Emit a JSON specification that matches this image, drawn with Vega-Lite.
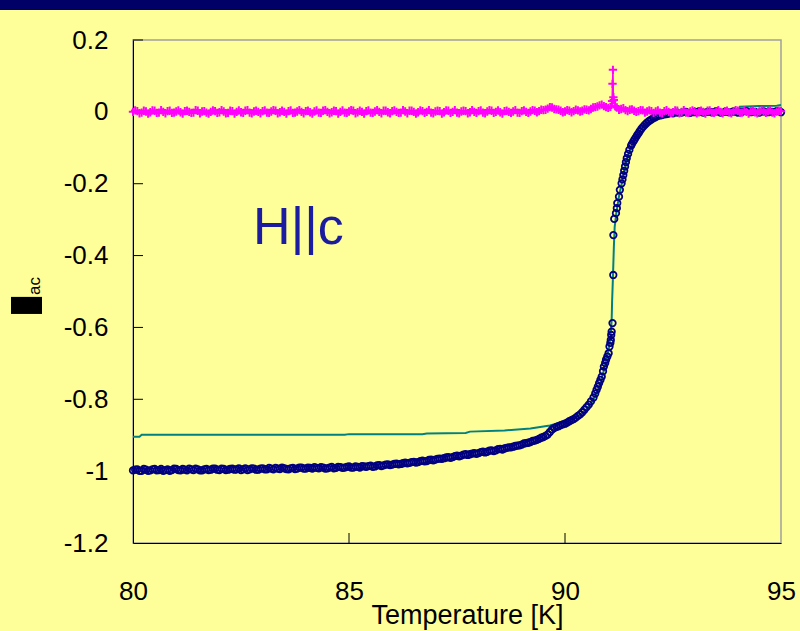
{
  "$schema": "https://vega.github.io/schema/vega-lite/v6.json",
  "width": 648,
  "height": 503,
  "autosize": {"type": "none"},
  "padding": {"left": 133, "top": 40, "right": 19, "bottom": 88},
  "background": "#FFFF99",
  "config": {
    "view": {"stroke": "#A0A0A0", "strokeWidth": 1.5},
    "font": "Liberation Sans"
  },
  "datasets": {
    "fit": [
      {"T": 80.0, "v": -0.904}, {"T": 80.15, "v": -0.904}, {"T": 80.2, "v": -0.899}, {"T": 84.9, "v": -0.899},
      {"T": 85.0, "v": -0.897}, {"T": 86.7, "v": -0.897}, {"T": 86.8, "v": -0.895}, {"T": 87.7, "v": -0.894},
      {"T": 87.8, "v": -0.890}, {"T": 88.6, "v": -0.887}, {"T": 89.2, "v": -0.881}, {"T": 89.65, "v": -0.873},
      {"T": 90.0, "v": -0.862}, {"T": 90.2, "v": -0.853}, {"T": 90.35, "v": -0.843}, {"T": 90.5, "v": -0.827},
      {"T": 90.6, "v": -0.812}, {"T": 90.7, "v": -0.790}, {"T": 90.8, "v": -0.762}, {"T": 90.9, "v": -0.720},
      {"T": 90.97, "v": -0.685}, {"T": 91.02, "v": -0.655}, {"T": 91.06, "v": -0.615}, {"T": 91.08, "v": -0.58},
      {"T": 91.09, "v": -0.53}, {"T": 91.11, "v": -0.46}, {"T": 91.13, "v": -0.38}, {"T": 91.15, "v": -0.32},
      {"T": 91.19, "v": -0.28}, {"T": 91.25, "v": -0.235}, {"T": 91.33, "v": -0.19}, {"T": 91.42, "v": -0.14},
      {"T": 91.52, "v": -0.10}, {"T": 91.65, "v": -0.068}, {"T": 91.8, "v": -0.042}, {"T": 91.95, "v": -0.027},
      {"T": 92.1, "v": -0.018}, {"T": 92.3, "v": -0.012}, {"T": 92.6, "v": -0.009}, {"T": 93.0, "v": -0.008},
      {"T": 93.5, "v": -0.008}, {"T": 94.0, "v": -0.008}, {"T": 94.05, "v": 0.014}, {"T": 94.5, "v": 0.016},
      {"T": 94.9, "v": 0.017}, {"T": 95.0, "v": 0.019}
    ],
    "real": [
      {"T": 80.0, "v": -0.998}, {"T": 80.1, "v": -0.995}, {"T": 80.2, "v": -0.999}, {"T": 80.3, "v": -0.996}, {"T": 80.4, "v": -0.998},
      {"T": 80.5, "v": -0.994}, {"T": 80.6, "v": -0.997}, {"T": 80.7, "v": -0.999}, {"T": 80.8, "v": -0.995}, {"T": 80.9, "v": -0.997},
      {"T": 81.0, "v": -0.994}, {"T": 81.1, "v": -0.998}, {"T": 81.2, "v": -0.996}, {"T": 81.3, "v": -0.993}, {"T": 81.4, "v": -0.997},
      {"T": 81.5, "v": -0.995}, {"T": 81.6, "v": -0.998}, {"T": 81.7, "v": -0.994}, {"T": 81.8, "v": -0.996}, {"T": 81.9, "v": -0.993},
      {"T": 82.0, "v": -0.997}, {"T": 82.1, "v": -0.994}, {"T": 82.2, "v": -0.996}, {"T": 82.3, "v": -0.993}, {"T": 82.4, "v": -0.995},
      {"T": 82.5, "v": -0.997}, {"T": 82.6, "v": -0.992}, {"T": 82.7, "v": -0.995}, {"T": 82.8, "v": -0.993}, {"T": 82.9, "v": -0.996},
      {"T": 83.0, "v": -0.992}, {"T": 83.1, "v": -0.995}, {"T": 83.2, "v": -0.993}, {"T": 83.3, "v": -0.991}, {"T": 83.4, "v": -0.994},
      {"T": 83.5, "v": -0.992}, {"T": 83.6, "v": -0.995}, {"T": 83.7, "v": -0.991}, {"T": 83.8, "v": -0.993}, {"T": 83.9, "v": -0.990},
      {"T": 84.0, "v": -0.993}, {"T": 84.1, "v": -0.991}, {"T": 84.2, "v": -0.989}, {"T": 84.3, "v": -0.992}, {"T": 84.4, "v": -0.990},
      {"T": 84.5, "v": -0.992}, {"T": 84.6, "v": -0.988}, {"T": 84.7, "v": -0.991}, {"T": 84.8, "v": -0.989}, {"T": 84.9, "v": -0.990},
      {"T": 85.0, "v": -0.987}, {"T": 85.1, "v": -0.990}, {"T": 85.2, "v": -0.988}, {"T": 85.3, "v": -0.986}, {"T": 85.4, "v": -0.988},
      {"T": 85.5, "v": -0.985}, {"T": 85.6, "v": -0.987}, {"T": 85.7, "v": -0.983}, {"T": 85.8, "v": -0.984}, {"T": 85.9, "v": -0.981},
      {"T": 86.0, "v": -0.982}, {"T": 86.1, "v": -0.979}, {"T": 86.2, "v": -0.980}, {"T": 86.3, "v": -0.976}, {"T": 86.4, "v": -0.977},
      {"T": 86.5, "v": -0.974}, {"T": 86.6, "v": -0.975}, {"T": 86.7, "v": -0.971}, {"T": 86.8, "v": -0.972}, {"T": 86.9, "v": -0.968},
      {"T": 87.0, "v": -0.968}, {"T": 87.1, "v": -0.965}, {"T": 87.2, "v": -0.964}, {"T": 87.3, "v": -0.961}, {"T": 87.4, "v": -0.961},
      {"T": 87.5, "v": -0.957}, {"T": 87.6, "v": -0.957}, {"T": 87.7, "v": -0.953}, {"T": 87.8, "v": -0.953}, {"T": 87.9, "v": -0.950},
      {"T": 88.0, "v": -0.950}, {"T": 88.1, "v": -0.946}, {"T": 88.2, "v": -0.946}, {"T": 88.3, "v": -0.942}, {"T": 88.4, "v": -0.942},
      {"T": 88.5, "v": -0.938}, {"T": 88.6, "v": -0.937}, {"T": 88.7, "v": -0.934}, {"T": 88.8, "v": -0.932}, {"T": 88.9, "v": -0.929},
      {"T": 89.0, "v": -0.926}, {"T": 89.1, "v": -0.922}, {"T": 89.2, "v": -0.919}, {"T": 89.3, "v": -0.915}, {"T": 89.4, "v": -0.910},
      {"T": 89.5, "v": -0.905}, {"T": 89.55, "v": -0.902}, {"T": 89.6, "v": -0.898}, {"T": 89.65, "v": -0.891}, {"T": 89.7, "v": -0.884},
      {"T": 89.75, "v": -0.880}, {"T": 89.8, "v": -0.877}, {"T": 89.85, "v": -0.875}, {"T": 89.9, "v": -0.872}, {"T": 89.95, "v": -0.870},
      {"T": 90.0, "v": -0.868}, {"T": 90.05, "v": -0.865},
      {"T": 90.1, "v": -0.861}, {"T": 90.15, "v": -0.858}, {"T": 90.2, "v": -0.855}, {"T": 90.25, "v": -0.851}, {"T": 90.3, "v": -0.846},
      {"T": 90.35, "v": -0.842}, {"T": 90.4, "v": -0.836}, {"T": 90.45, "v": -0.829}, {"T": 90.5, "v": -0.822}, {"T": 90.55, "v": -0.815},
      {"T": 90.6, "v": -0.806}, {"T": 90.66, "v": -0.795}, {"T": 90.7, "v": -0.784}, {"T": 90.73, "v": -0.774}, {"T": 90.76, "v": -0.765},
      {"T": 90.79, "v": -0.755}, {"T": 90.82, "v": -0.746}, {"T": 90.85, "v": -0.737}, {"T": 90.88, "v": -0.722}, {"T": 90.9, "v": -0.709},
      {"T": 90.93, "v": -0.699}, {"T": 90.95, "v": -0.690}, {"T": 90.98, "v": -0.681}, {"T": 91.01, "v": -0.672}, {"T": 91.03, "v": -0.653},
      {"T": 91.05, "v": -0.643}, {"T": 91.06, "v": -0.635}, {"T": 91.07, "v": -0.621}, {"T": 91.08, "v": -0.612}, {"T": 91.10, "v": -0.588},
      {"T": 91.118, "v": -0.454}, {"T": 91.12, "v": -0.343}, {"T": 91.14, "v": -0.298}, {"T": 91.18, "v": -0.282}, {"T": 91.20, "v": -0.268},
      {"T": 91.21, "v": -0.254}, {"T": 91.25, "v": -0.236}, {"T": 91.27, "v": -0.217}, {"T": 91.31, "v": -0.199}, {"T": 91.33, "v": -0.188},
      {"T": 91.35, "v": -0.176}, {"T": 91.37, "v": -0.164}, {"T": 91.39, "v": -0.152}, {"T": 91.41, "v": -0.140}, {"T": 91.43, "v": -0.129},
      {"T": 91.46, "v": -0.117}, {"T": 91.49, "v": -0.106}, {"T": 91.53, "v": -0.094}, {"T": 91.55, "v": -0.089}, {"T": 91.58, "v": -0.083},
      {"T": 91.61, "v": -0.077}, {"T": 91.64, "v": -0.071}, {"T": 91.67, "v": -0.065}, {"T": 91.70, "v": -0.060}, {"T": 91.73, "v": -0.054},
      {"T": 91.77, "v": -0.047}, {"T": 91.81, "v": -0.041}, {"T": 91.85, "v": -0.036}, {"T": 91.89, "v": -0.031}, {"T": 91.94, "v": -0.026},
      {"T": 91.99, "v": -0.022}, {"T": 92.04, "v": -0.018}, {"T": 92.09, "v": -0.015}, {"T": 92.14, "v": -0.012}, {"T": 92.19, "v": -0.010},
      {"T": 92.24, "v": -0.009}, {"T": 92.3, "v": -0.007}, {"T": 92.35, "v": -0.006}, {"T": 92.4, "v": -0.005}, {"T": 92.5, "v": -0.004},
      {"T": 92.6, "v": -0.002}, {"T": 92.7, "v": -0.002}, {"T": 92.8, "v": 0.000}, {"T": 92.9, "v": -0.003}, {"T": 93.0, "v": -0.001},
      {"T": 93.1, "v": 0.001}, {"T": 93.2, "v": -0.002}, {"T": 93.3, "v": 0.000}, {"T": 93.4, "v": -0.001}, {"T": 93.5, "v": 0.002},
      {"T": 93.6, "v": -0.002}, {"T": 93.7, "v": 0.000}, {"T": 93.8, "v": -0.001}, {"T": 93.9, "v": 0.001}, {"T": 94.0, "v": -0.002},
      {"T": 94.1, "v": 0.000}, {"T": 94.2, "v": 0.002}, {"T": 94.3, "v": -0.001}, {"T": 94.4, "v": 0.000}, {"T": 94.5, "v": -0.002},
      {"T": 94.6, "v": 0.001}, {"T": 94.7, "v": -0.001}, {"T": 94.8, "v": 0.000}, {"T": 94.9, "v": 0.002}, {"T": 95.0, "v": -0.001},
      {"T": 80.05, "v": -0.996}, {"T": 80.15, "v": -0.999}, {"T": 80.25, "v": -0.994}, {"T": 80.35, "v": -0.999}, {"T": 80.45, "v": -0.995},
      {"T": 80.55, "v": -0.998}, {"T": 80.65, "v": -0.994}, {"T": 80.75, "v": -0.997}, {"T": 80.85, "v": -0.999}, {"T": 80.95, "v": -0.993},
      {"T": 81.05, "v": -0.997}, {"T": 81.15, "v": -0.994}, {"T": 81.25, "v": -0.998}, {"T": 81.35, "v": -0.995}, {"T": 81.45, "v": -0.993},
      {"T": 81.55, "v": -0.998}, {"T": 81.65, "v": -0.995}, {"T": 81.75, "v": -0.997}, {"T": 81.85, "v": -0.993}, {"T": 81.95, "v": -0.996},
      {"T": 82.05, "v": -0.993}, {"T": 82.15, "v": -0.997}, {"T": 82.25, "v": -0.994}, {"T": 82.35, "v": -0.996}, {"T": 82.45, "v": -0.992},
      {"T": 82.55, "v": -0.995}, {"T": 82.65, "v": -0.997}, {"T": 82.75, "v": -0.992}, {"T": 82.85, "v": -0.996}, {"T": 82.95, "v": -0.993},
      {"T": 83.05, "v": -0.995}, {"T": 83.15, "v": -0.991}, {"T": 83.25, "v": -0.995}, {"T": 83.35, "v": -0.993}, {"T": 83.45, "v": -0.990},
      {"T": 83.55, "v": -0.994}, {"T": 83.65, "v": -0.992}, {"T": 83.75, "v": -0.994}, {"T": 83.85, "v": -0.990}, {"T": 83.95, "v": -0.993},
      {"T": 84.05, "v": -0.990}, {"T": 84.15, "v": -0.993}, {"T": 84.25, "v": -0.991}, {"T": 84.35, "v": -0.989}, {"T": 84.45, "v": -0.993},
      {"T": 84.55, "v": -0.990}, {"T": 84.65, "v": -0.992}, {"T": 84.75, "v": -0.988}, {"T": 84.85, "v": -0.991}, {"T": 84.95, "v": -0.988},
      {"T": 85.05, "v": -0.990}, {"T": 85.15, "v": -0.987}, {"T": 85.25, "v": -0.990}, {"T": 85.35, "v": -0.987}, {"T": 85.45, "v": -0.986},
      {"T": 85.55, "v": -0.988}, {"T": 85.65, "v": -0.984}, {"T": 85.75, "v": -0.986}, {"T": 85.85, "v": -0.982}, {"T": 85.95, "v": -0.983},
      {"T": 86.05, "v": -0.980}, {"T": 86.15, "v": -0.981}, {"T": 86.25, "v": -0.978}, {"T": 86.35, "v": -0.978}, {"T": 86.45, "v": -0.975},
      {"T": 86.55, "v": -0.976}, {"T": 86.65, "v": -0.972}, {"T": 86.75, "v": -0.973}, {"T": 86.85, "v": -0.969}, {"T": 86.95, "v": -0.970},
      {"T": 87.05, "v": -0.966}, {"T": 87.15, "v": -0.966}, {"T": 87.25, "v": -0.962}, {"T": 87.35, "v": -0.963}, {"T": 87.45, "v": -0.958},
      {"T": 87.55, "v": -0.959}, {"T": 87.65, "v": -0.954}, {"T": 87.75, "v": -0.955}, {"T": 87.85, "v": -0.951}, {"T": 87.95, "v": -0.952},
      {"T": 88.05, "v": -0.947}, {"T": 88.15, "v": -0.948}, {"T": 88.25, "v": -0.943}, {"T": 88.35, "v": -0.944}, {"T": 88.45, "v": -0.939},
      {"T": 88.55, "v": -0.940}, {"T": 88.65, "v": -0.935}, {"T": 88.75, "v": -0.934}, {"T": 88.85, "v": -0.930}, {"T": 88.95, "v": -0.928},
      {"T": 89.05, "v": -0.923}, {"T": 89.15, "v": -0.921}, {"T": 89.25, "v": -0.916}, {"T": 89.35, "v": -0.913}, {"T": 89.45, "v": -0.907}
    ],
    "imag": [
      {"T": 80.0, "v": 0.000}, {"T": 80.1, "v": 0.002}, {"T": 80.2, "v": -0.002}, {"T": 80.3, "v": 0.001}, {"T": 80.4, "v": -0.001},
      {"T": 80.5, "v": 0.003}, {"T": 80.6, "v": -0.002}, {"T": 80.7, "v": 0.000}, {"T": 80.8, "v": 0.002}, {"T": 80.9, "v": -0.003},
      {"T": 81.0, "v": 0.001}, {"T": 81.1, "v": -0.001}, {"T": 81.2, "v": 0.002}, {"T": 81.3, "v": 0.000}, {"T": 81.4, "v": -0.002},
      {"T": 81.5, "v": 0.003}, {"T": 81.6, "v": 0.001}, {"T": 81.7, "v": -0.002}, {"T": 81.8, "v": 0.000}, {"T": 81.9, "v": 0.002},
      {"T": 82.0, "v": -0.001}, {"T": 82.1, "v": 0.001}, {"T": 82.2, "v": -0.003}, {"T": 82.3, "v": 0.002}, {"T": 82.4, "v": 0.000},
      {"T": 82.5, "v": -0.001}, {"T": 82.6, "v": 0.003}, {"T": 82.7, "v": -0.002}, {"T": 82.8, "v": 0.001}, {"T": 82.9, "v": 0.000},
      {"T": 83.0, "v": 0.002}, {"T": 83.1, "v": -0.002}, {"T": 83.2, "v": 0.001}, {"T": 83.3, "v": 0.003}, {"T": 83.4, "v": -0.001},
      {"T": 83.5, "v": 0.000}, {"T": 83.6, "v": 0.002}, {"T": 83.7, "v": -0.003}, {"T": 83.8, "v": 0.001}, {"T": 83.9, "v": 0.000},
      {"T": 84.0, "v": 0.002}, {"T": 84.1, "v": -0.001}, {"T": 84.2, "v": 0.001}, {"T": 84.3, "v": -0.002}, {"T": 84.4, "v": 0.003},
      {"T": 84.5, "v": 0.000}, {"T": 84.6, "v": -0.001}, {"T": 84.7, "v": 0.002}, {"T": 84.8, "v": 0.000}, {"T": 84.9, "v": -0.002},
      {"T": 85.0, "v": 0.001}, {"T": 85.1, "v": 0.003}, {"T": 85.2, "v": -0.001}, {"T": 85.3, "v": 0.000}, {"T": 85.4, "v": 0.002},
      {"T": 85.5, "v": -0.002}, {"T": 85.6, "v": 0.001}, {"T": 85.7, "v": 0.000}, {"T": 85.8, "v": 0.003}, {"T": 85.9, "v": -0.001},
      {"T": 86.0, "v": 0.002}, {"T": 86.1, "v": 0.000}, {"T": 86.2, "v": -0.002}, {"T": 86.3, "v": 0.001}, {"T": 86.4, "v": 0.003},
      {"T": 86.5, "v": 0.000}, {"T": 86.6, "v": -0.001}, {"T": 86.7, "v": 0.002}, {"T": 86.8, "v": 0.000}, {"T": 86.9, "v": -0.002},
      {"T": 87.0, "v": 0.001}, {"T": 87.1, "v": 0.002}, {"T": 87.2, "v": -0.001}, {"T": 87.3, "v": 0.003}, {"T": 87.4, "v": 0.000},
      {"T": 87.5, "v": -0.002}, {"T": 87.6, "v": 0.001}, {"T": 87.7, "v": 0.002}, {"T": 87.8, "v": -0.001}, {"T": 87.9, "v": 0.000},
      {"T": 88.0, "v": 0.002}, {"T": 88.1, "v": -0.002}, {"T": 88.2, "v": 0.001}, {"T": 88.3, "v": 0.003}, {"T": 88.4, "v": 0.000},
      {"T": 88.5, "v": -0.001}, {"T": 88.6, "v": 0.002}, {"T": 88.7, "v": 0.000}, {"T": 88.8, "v": 0.001}, {"T": 88.9, "v": -0.002},
      {"T": 89.0, "v": 0.002}, {"T": 89.1, "v": 0.000}, {"T": 89.2, "v": 0.001}, {"T": 89.3, "v": 0.003}, {"T": 89.4, "v": 0.002},
      {"T": 89.5, "v": 0.005}, {"T": 89.6, "v": 0.009}, {"T": 89.7, "v": 0.012}, {"T": 89.8, "v": 0.007}, {"T": 89.9, "v": 0.003},
      {"T": 90.0, "v": 0.001}, {"T": 90.1, "v": 0.003}, {"T": 90.2, "v": 0.002}, {"T": 90.3, "v": 0.004}, {"T": 90.4, "v": 0.003},
      {"T": 90.5, "v": 0.006}, {"T": 90.6, "v": 0.008}, {"T": 90.7, "v": 0.013}, {"T": 90.8, "v": 0.018}, {"T": 90.9, "v": 0.016},
      {"T": 91.0, "v": 0.011}, {"T": 91.05, "v": 0.014}, {"T": 91.09, "v": 0.03}, {"T": 91.10, "v": 0.078}, {"T": 91.11, "v": 0.117},
      {"T": 91.12, "v": 0.041}, {"T": 91.13, "v": 0.033}, {"T": 91.16, "v": 0.016}, {"T": 91.2, "v": 0.012}, {"T": 91.3, "v": 0.008},
      {"T": 91.4, "v": 0.005}, {"T": 91.5, "v": 0.006}, {"T": 91.6, "v": 0.003}, {"T": 91.7, "v": 0.002}, {"T": 91.8, "v": 0.004},
      {"T": 91.9, "v": 0.001}, {"T": 92.0, "v": 0.002}, {"T": 92.1, "v": 0.001}, {"T": 92.2, "v": -0.002}, {"T": 92.3, "v": 0.002},
      {"T": 92.4, "v": 0.000}, {"T": 92.5, "v": -0.001}, {"T": 92.6, "v": 0.003}, {"T": 92.7, "v": 0.000}, {"T": 92.8, "v": -0.002},
      {"T": 92.9, "v": 0.001}, {"T": 93.0, "v": 0.002}, {"T": 93.1, "v": -0.001}, {"T": 93.2, "v": 0.000}, {"T": 93.3, "v": 0.003},
      {"T": 93.4, "v": -0.002}, {"T": 93.5, "v": 0.001}, {"T": 93.6, "v": 0.000}, {"T": 93.7, "v": 0.002}, {"T": 93.8, "v": -0.001},
      {"T": 93.9, "v": 0.001}, {"T": 94.0, "v": 0.003}, {"T": 94.1, "v": -0.002}, {"T": 94.2, "v": 0.000}, {"T": 94.3, "v": 0.002},
      {"T": 94.4, "v": -0.001}, {"T": 94.5, "v": 0.001}, {"T": 94.6, "v": 0.000}, {"T": 94.7, "v": 0.002}, {"T": 94.8, "v": -0.002},
      {"T": 94.9, "v": 0.001}, {"T": 95.0, "v": 0.002},
      {"T": 80.05, "v": 0.004}, {"T": 80.15, "v": -0.004}, {"T": 80.25, "v": 0.003}, {"T": 80.35, "v": -0.005}, {"T": 80.45, "v": 0.004},
      {"T": 80.55, "v": -0.003}, {"T": 80.65, "v": 0.005}, {"T": 80.75, "v": -0.004}, {"T": 80.85, "v": 0.003}, {"T": 80.95, "v": -0.002},
      {"T": 81.05, "v": 0.004}, {"T": 81.15, "v": -0.005}, {"T": 81.25, "v": 0.003}, {"T": 81.35, "v": -0.003}, {"T": 81.45, "v": 0.005},
      {"T": 81.55, "v": -0.004}, {"T": 81.65, "v": 0.002}, {"T": 81.75, "v": -0.005}, {"T": 81.85, "v": 0.004}, {"T": 81.95, "v": -0.003},
      {"T": 82.05, "v": 0.005}, {"T": 82.15, "v": -0.004}, {"T": 82.25, "v": 0.003}, {"T": 82.35, "v": -0.005}, {"T": 82.45, "v": 0.004},
      {"T": 82.55, "v": -0.003}, {"T": 82.65, "v": 0.005}, {"T": 82.75, "v": -0.004}, {"T": 82.85, "v": 0.003}, {"T": 82.95, "v": -0.004},
      {"T": 83.05, "v": 0.004}, {"T": 83.15, "v": -0.003}, {"T": 83.25, "v": 0.005}, {"T": 83.35, "v": -0.004}, {"T": 83.45, "v": 0.003},
      {"T": 83.55, "v": -0.005}, {"T": 83.65, "v": 0.004}, {"T": 83.75, "v": -0.002}, {"T": 83.85, "v": 0.005}, {"T": 83.95, "v": -0.004},
      {"T": 84.05, "v": 0.003}, {"T": 84.15, "v": -0.005}, {"T": 84.25, "v": 0.004}, {"T": 84.35, "v": -0.003}, {"T": 84.45, "v": 0.005},
      {"T": 84.55, "v": -0.004}, {"T": 84.65, "v": 0.003}, {"T": 84.75, "v": -0.005}, {"T": 84.85, "v": 0.004}, {"T": 84.95, "v": -0.003},
      {"T": 85.05, "v": 0.005}, {"T": 85.15, "v": -0.004}, {"T": 85.25, "v": 0.003}, {"T": 85.35, "v": -0.005}, {"T": 85.45, "v": 0.004},
      {"T": 85.55, "v": -0.003}, {"T": 85.65, "v": 0.005}, {"T": 85.75, "v": -0.004}, {"T": 85.85, "v": 0.003}, {"T": 85.95, "v": -0.004},
      {"T": 86.05, "v": 0.004}, {"T": 86.15, "v": -0.003}, {"T": 86.25, "v": 0.005}, {"T": 86.35, "v": -0.004}, {"T": 86.45, "v": 0.003},
      {"T": 86.55, "v": -0.005}, {"T": 86.65, "v": 0.004}, {"T": 86.75, "v": -0.003}, {"T": 86.85, "v": 0.005}, {"T": 86.95, "v": -0.004},
      {"T": 87.05, "v": 0.003}, {"T": 87.15, "v": -0.005}, {"T": 87.25, "v": 0.004}, {"T": 87.35, "v": -0.003}, {"T": 87.45, "v": 0.005},
      {"T": 87.55, "v": -0.004}, {"T": 87.65, "v": 0.003}, {"T": 87.75, "v": -0.004}, {"T": 87.85, "v": 0.005}, {"T": 87.95, "v": -0.003},
      {"T": 88.05, "v": 0.004}, {"T": 88.15, "v": -0.004}, {"T": 88.25, "v": 0.005}, {"T": 88.35, "v": -0.003}, {"T": 88.45, "v": 0.004},
      {"T": 88.55, "v": -0.005}, {"T": 88.65, "v": 0.003}, {"T": 88.75, "v": -0.003}, {"T": 88.85, "v": 0.005}, {"T": 88.95, "v": -0.003},
      {"T": 89.05, "v": 0.004}, {"T": 89.15, "v": -0.003}, {"T": 89.25, "v": 0.005}, {"T": 89.35, "v": -0.001}, {"T": 89.45, "v": 0.006},
      {"T": 89.55, "v": 0.006}, {"T": 89.65, "v": 0.013}, {"T": 89.75, "v": 0.008}, {"T": 89.85, "v": 0.006}, {"T": 89.95, "v": -0.001},
      {"T": 90.05, "v": 0.005}, {"T": 90.15, "v": -0.001}, {"T": 90.25, "v": 0.006}, {"T": 90.35, "v": 0.001}, {"T": 90.45, "v": 0.007},
      {"T": 90.55, "v": 0.004}, {"T": 90.65, "v": 0.012}, {"T": 90.75, "v": 0.015}, {"T": 90.85, "v": 0.020}, {"T": 90.95, "v": 0.013},
      {"T": 91.25, "v": 0.006}, {"T": 91.35, "v": 0.010}, {"T": 91.45, "v": 0.002}, {"T": 91.55, "v": 0.007}, {"T": 91.65, "v": 0.000},
      {"T": 91.75, "v": 0.005}, {"T": 91.85, "v": -0.002}, {"T": 91.95, "v": 0.004},
      {"T": 92.05, "v": -0.003}, {"T": 92.15, "v": 0.004}, {"T": 92.25, "v": -0.004}, {"T": 92.35, "v": 0.005}, {"T": 92.45, "v": -0.003},
      {"T": 92.55, "v": 0.004}, {"T": 92.65, "v": -0.004}, {"T": 92.75, "v": 0.005}, {"T": 92.85, "v": -0.003}, {"T": 92.95, "v": 0.004},
      {"T": 93.05, "v": -0.004}, {"T": 93.15, "v": 0.003}, {"T": 93.25, "v": -0.005}, {"T": 93.35, "v": 0.004}, {"T": 93.45, "v": -0.003},
      {"T": 93.55, "v": 0.005}, {"T": 93.65, "v": -0.004}, {"T": 93.75, "v": 0.003}, {"T": 93.85, "v": -0.004}, {"T": 93.95, "v": 0.005},
      {"T": 94.05, "v": -0.003}, {"T": 94.15, "v": 0.004}, {"T": 94.25, "v": -0.005}, {"T": 94.35, "v": 0.003}, {"T": 94.45, "v": -0.004},
      {"T": 94.55, "v": 0.005}, {"T": 94.65, "v": -0.003}, {"T": 94.75, "v": 0.004}, {"T": 94.85, "v": -0.004}, {"T": 94.95, "v": 0.003}
    ],
    "xticks": [{"t": 85}, {"t": 90}],
    "yticks": [{"t": -1}, {"t": -0.8}, {"t": -0.6}, {"t": -0.4}, {"t": -0.2}, {"t": 0}, {"t": 0.2}],
    "one": [{}]
  },
  "layer": [
    {
      "data": {"name": "fit"},
      "mark": {"type": "line", "color": "#008080", "strokeWidth": 2},
      "encoding": {
        "x": {
          "field": "T", "type": "quantitative",
          "scale": {"domain": [80, 95], "nice": false, "zero": false},
          "axis": {
            "values": [80, 85, 90, 95],
            "grid": false,
            "ticks": false,
            "tickSize": 0,
            "domainColor": "#000000",
            "labelFontSize": 26,
            "labelColor": "#000000",
            "labelPadding": 35,
            "labelFlush": false,
            "labelBaseline": "top",
            "title": "Temperature [K]",
            "titleFontSize": 27,
            "titleFontWeight": "normal",
            "titleColor": "#000000",
            "titleX": 334,
            "titleY": 80,
            "titleBaseline": "alphabetic"
          }
        },
        "y": {
          "field": "v", "type": "quantitative",
          "scale": {"domain": [-1.2, 0.2], "nice": false, "zero": false},
          "axis": {
            "values": [-1.2, -1, -0.8, -0.6, -0.4, -0.2, 0, 0.2],
            "labelExpr": "'' + datum.value",
            "grid": false,
            "ticks": false,
            "tickSize": 0,
            "domainColor": "#000000",
            "labelFontSize": 26,
            "labelColor": "#000000",
            "labelPadding": 25,
            "labelFlush": false,
            "title": null
          }
        }
      }
    },
    {
      "data": {"name": "xticks"},
      "mark": {"type": "rule", "color": "#000000", "strokeWidth": 1},
      "encoding": {
        "x": {"field": "t", "type": "quantitative", "scale": {"domain": [80, 95], "nice": false, "zero": false}},
        "y": {"datum": -1.2, "type": "quantitative", "scale": {"domain": [-1.2, 0.2], "nice": false, "zero": false}},
        "y2": {"datum": -1.1722}
      }
    },
    {
      "data": {"name": "yticks"},
      "mark": {"type": "rule", "color": "#000000", "strokeWidth": 1},
      "encoding": {
        "y": {"field": "t", "type": "quantitative", "scale": {"domain": [-1.2, 0.2], "nice": false, "zero": false}},
        "x": {"datum": 80, "type": "quantitative", "scale": {"domain": [80, 95], "nice": false, "zero": false}},
        "x2": {"datum": 80.2315}
      }
    },
    {
      "data": {"name": "real"},
      "mark": {"type": "point", "shape": "circle", "filled": false, "color": "#000080", "size": 42, "strokeWidth": 1.8, "opacity": 1},
      "encoding": {
        "x": {"field": "T", "type": "quantitative", "scale": {"domain": [80, 95], "nice": false, "zero": false}},
        "y": {"field": "v", "type": "quantitative", "scale": {"domain": [-1.2, 0.2], "nice": false, "zero": false}}
      }
    },
    {
      "data": {"name": "imag"},
      "mark": {"type": "line", "color": "#FF00FF", "strokeWidth": 1.5, "point": {"shape": "M-1,0H1M0,-1V1", "filled": false, "stroke": "#FF00FF", "strokeWidth": 2, "size": 70, "opacity": 1}},
      "encoding": {
        "x": {"field": "T", "type": "quantitative", "scale": {"domain": [80, 95], "nice": false, "zero": false}},
        "y": {"field": "v", "type": "quantitative", "scale": {"domain": [-1.2, 0.2], "nice": false, "zero": false}}
      }
    },
    {
      "data": {"name": "one"},
      "mark": {"type": "text", "text": "H||c", "font": "Liberation Sans", "fontSize": 52, "color": "#1c1ca0", "align": "left", "baseline": "alphabetic"},
      "encoding": {
        "x": {"datum": 82.78, "type": "quantitative", "scale": {"domain": [80, 95], "nice": false, "zero": false}},
        "y": {"datum": -0.3677, "type": "quantitative", "scale": {"domain": [-1.2, 0.2], "nice": false, "zero": false}}
      }
    },
    {
      "data": {"name": "one"},
      "mark": {"type": "rect", "color": "#000000"},
      "encoding": {
        "x": {"datum": 77.176, "type": "quantitative", "scale": {"domain": [80, 95], "nice": false, "zero": false}},
        "x2": {"datum": 77.894},
        "y": {"datum": -0.515, "type": "quantitative", "scale": {"domain": [-1.2, 0.2], "nice": false, "zero": false}},
        "y2": {"datum": -0.5625}
      }
    },
    {
      "data": {"name": "one"},
      "mark": {"type": "text", "text": "ac", "font": "Liberation Sans", "fontSize": 17, "color": "#000000", "align": "left", "baseline": "alphabetic", "angle": 270},
      "encoding": {
        "x": {"datum": 77.847, "type": "quantitative", "scale": {"domain": [80, 95], "nice": false, "zero": false}},
        "y": {"datum": -0.5096, "type": "quantitative", "scale": {"domain": [-1.2, 0.2], "nice": false, "zero": false}}
      }
    },
    {
      "data": {"name": "one"},
      "mark": {"type": "rect", "color": "#000066"},
      "encoding": {
        "x": {"datum": 76.8, "type": "quantitative", "scale": {"domain": [80, 95], "nice": false, "zero": false}},
        "x2": {"datum": 95.6},
        "y": {"datum": 0.36, "type": "quantitative", "scale": {"domain": [-1.2, 0.2], "nice": false, "zero": false}},
        "y2": {"datum": 0.2835}
      }
    }
  ]
}
